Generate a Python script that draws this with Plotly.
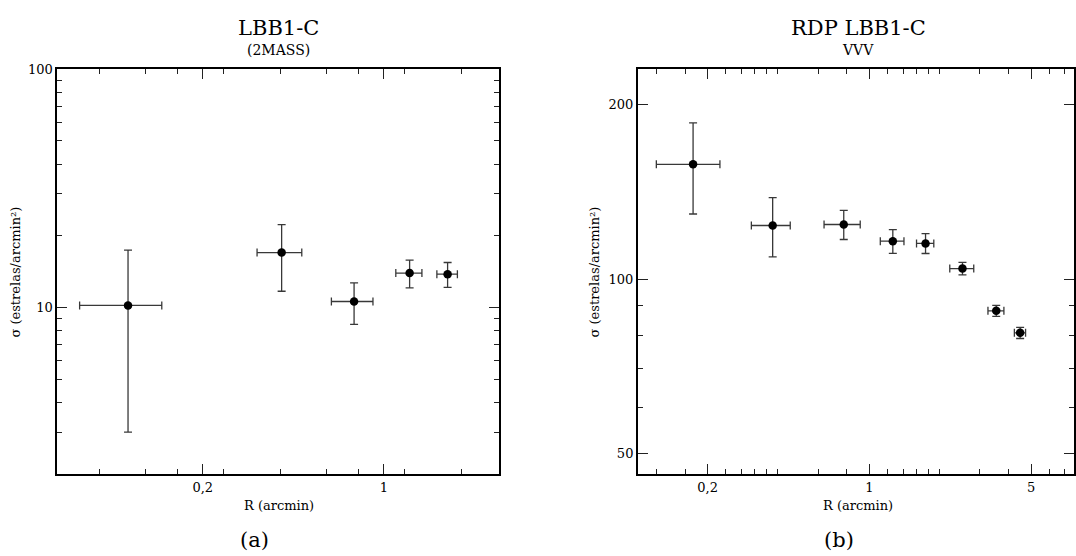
import math
import plotly.graph_objects as go

# ---- Panel (a): LBB1-C, 2MASS ----
r_2mass = [0.103, 0.403, 0.767, 1.256, 1.76]
r_2mass_err = [0.036, 0.079, 0.14, 0.145, 0.16]
sig_2mass = [10.2, 17.0, 10.6, 13.95, 13.8]
sig_2mass_err = [7.2, 5.3, 2.1, 1.85, 1.65]

# ---- Panel (b): RDP LBB1-C, VVV ----
r_vvv = [0.173, 0.382, 0.775, 1.263, 1.749, 2.526, 3.535, 4.484]
r_vvv_err = [0.053, 0.073, 0.138, 0.148, 0.15, 0.3, 0.28, 0.25]
sig_vvv = [157.9, 123.8, 124.3, 116.3, 115.3, 104.3, 88.2, 80.8]
sig_vvv_err = [28.3, 14.5, 7.2, 5.5, 4.55, 2.6, 1.9, 1.8]

# tick definitions
xa_major = [0.2, 1]
xa_major_text = ["0,2", "1"]
xa_minor = [0.08, 0.12, 0.16, 0.24, 0.4, 0.6, 0.8, 1.2, 2]
ya_major = [10, 100]
ya_major_text = ["10", "100"]
ya_minor = [3, 4, 5, 6, 7, 8, 9, 20, 30, 40, 50, 60, 70, 80, 90]

xb_major = [0.2, 1, 5]
xb_major_text = ["0,2", "1", "5"]
xb_minor = [0.12, 0.16, 0.24, 0.28, 0.32, 0.36, 0.4, 0.6, 0.8,
            1.2, 1.4, 1.6, 1.8, 2, 3, 4, 6, 7]
yb_major = [50, 100, 200]
yb_major_text = ["50", "100", "200"]
yb_minor = [60, 70, 80, 90]

W, H = 1076, 556
FONT = "DejaVu Serif"


def px(x):
    return x / W


def py(y):
    return 1 - y / H


fig = go.Figure()

err_style = dict(type="data", color="#383838", thickness=1.3, width=4)

fig.add_trace(go.Scatter(
    x=r_2mass, y=sig_2mass, mode="markers",
    marker=dict(color="black", size=8.5),
    error_x=dict(array=r_2mass_err, **err_style),
    error_y=dict(array=sig_2mass_err, **err_style),
    xaxis="x", yaxis="y", showlegend=False,
))
fig.add_trace(go.Scatter(
    x=r_vvv, y=sig_vvv, mode="markers",
    marker=dict(color="black", size=8.5),
    error_x=dict(array=r_vvv_err, **err_style),
    error_y=dict(array=sig_vvv_err, **err_style),
    xaxis="x2", yaxis="y2", showlegend=False,
))


def axis(domain, rng, major, major_text, minor, anchor):
    return dict(
        type="log", domain=domain, range=rng, anchor=anchor,
        showline=True, linecolor="black", linewidth=2, mirror="ticks",
        ticks="inside", ticklen=10, tickwidth=1.3, tickcolor="#222222",
        tickmode="array", tickvals=major, ticktext=major_text,
        tickfont=dict(family=FONT, size=13, color="black"),
        showgrid=False, zeroline=False,
        minor=dict(tickmode="array", tickvals=minor, ticks="inside",
                   ticklen=5, tickwidth=1.3, tickcolor="#222222",
                   showgrid=False),
    )


ydom = [py(473), py(63)]
fig.update_layout(
    width=W, height=H,
    margin=dict(l=0, r=0, t=0, b=0),
    paper_bgcolor="white", plot_bgcolor="white",
    font=dict(family=FONT, color="black"),
    xaxis=axis([px(57.5), px(500)], [math.log10(0.055), math.log10(2.78)],
               xa_major, xa_major_text, xa_minor, "y"),
    yaxis=axis(ydom, [math.log10(2), 2.0002],
               ya_major, ya_major_text, ya_minor, "x"),
    xaxis2=axis([px(639.2), 1.0], [-1.0, 0.8845],
                xb_major, xb_major_text, xb_minor, "y2"),
    yaxis2=axis(ydom, [math.log10(46.1), math.log10(230.4)],
                yb_major, yb_major_text, yb_minor, "x2"),
)


def label(text, x, y, size, angle=0):
    fig.add_annotation(
        text=text, x=px(x), y=py(y), xref="paper", yref="paper",
        xanchor="center", yanchor="middle", showarrow=False,
        textangle=angle, font=dict(family=FONT, size=size, color="black"),
    )


label("LBB1-C", 279, 21, 21)
label("(2MASS)", 279, 44, 14)
label("RDP LBB1-C", 860, 21, 21)
label("VVV", 860, 44, 14)
label("R (arcmin)", 280, 505, 13)
label("R (arcmin)", 860, 505, 13)
label("σ (estrelas/arcmin²)", 16, 268, 13, -90)
label("σ (estrelas/arcmin²)", 596, 268, 13, -90)
label("(a)", 255, 540, 21)
label("(b)", 841, 540, 21)

fig.write_html("out.html")
